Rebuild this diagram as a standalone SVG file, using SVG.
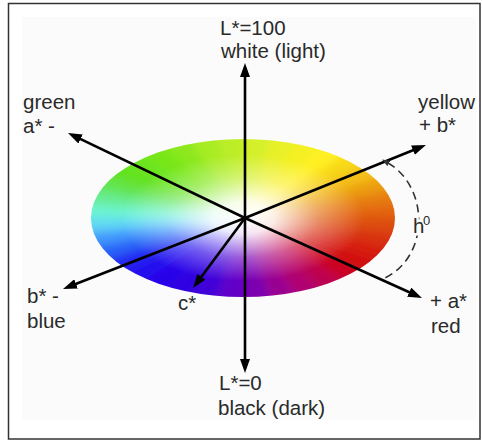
<svg xmlns="http://www.w3.org/2000/svg" width="482" height="443" viewBox="0 0 482 443">
<style>
.t{font-family:"Liberation Sans",Arial,sans-serif;font-size:20.5px;fill:#2a2a2a}
.ax{stroke:#000;stroke-width:2.6;fill:none;marker-end:url(#ah)}
</style>
<defs>
<marker id="ah" viewBox="0 0 14 10" refX="8" refY="5" markerWidth="14" markerHeight="10" markerUnits="userSpaceOnUse" orient="auto"><path d="M0,0 L14,5 L0,10 Z" fill="#000"/></marker>
<marker id="sa" viewBox="0 0 8 6" refX="1" refY="3" markerWidth="8" markerHeight="6" markerUnits="userSpaceOnUse" orient="auto-start-reverse"><path d="M0,0 L8,3 L0,6 Z" fill="#333"/></marker>
<clipPath id="cl"><ellipse cx="243" cy="218" rx="152" ry="79"/></clipPath>
<filter id="bl" x="-10%" y="-10%" width="120%" height="120%"><feGaussianBlur stdDeviation="5"/></filter>
<radialGradient id="wh" cx="0.5" cy="0.5" r="0.5">
<stop offset="0" stop-color="#fff" stop-opacity="1"/>
<stop offset="0.2" stop-color="#fff" stop-opacity="0.9"/>
<stop offset="0.5" stop-color="#fff" stop-opacity="0.35"/>
<stop offset="0.8" stop-color="#fff" stop-opacity="0"/>
</radialGradient>
</defs>
<rect x="8.5" y="3.5" width="471.5" height="435.5" fill="#fff" stroke="#333" stroke-width="1.5"/>
<rect x="22" y="17" width="454" height="403" fill="#fbfbfb"/>
<g id="disc">
<g clip-path="url(#cl)">
<g filter="url(#bl)">
<path d="M244 218L414 218L411.4 202.4Z" fill="#e26410"/>
<path d="M244 218L411.4 202.4L403.7 187.2Z" fill="#e67c10"/>
<path d="M244 218L403.7 187.2L391.2 173Z" fill="#ec9e10"/>
<path d="M244 218L391.2 173L374.2 160.1Z" fill="#f4c014"/>
<path d="M244 218L374.2 160.1L353.3 149.1Z" fill="#f8d818"/>
<path d="M244 218L353.3 149.1L329 140.1Z" fill="#fff020"/>
<path d="M244 218L329 140.1L302.1 133.4Z" fill="#f4f024"/>
<path d="M244 218L302.1 133.4L273.5 129.4Z" fill="#e8f028"/>
<path d="M244 218L273.5 129.4L244 128Z" fill="#d4f02c"/>
<path d="M244 218L244 128L214.5 129.4Z" fill="#bcee28"/>
<path d="M244 218L214.5 129.4L185.9 133.4Z" fill="#a8ec24"/>
<path d="M244 218L185.9 133.4L159 140.1Z" fill="#8ce81c"/>
<path d="M244 218L159 140.1L134.7 149.1Z" fill="#78e618"/>
<path d="M244 218L134.7 149.1L113.8 160.1Z" fill="#6ae41a"/>
<path d="M244 218L113.8 160.1L96.8 173Z" fill="#62e21e"/>
<path d="M244 218L96.8 173L84.3 187.2Z" fill="#62e448"/>
<path d="M244 218L84.3 187.2L76.6 202.4Z" fill="#66ec90"/>
<path d="M244 218L76.6 202.4L74 218Z" fill="#6cf4d0"/>
<path d="M244 218L74 218L76.6 233.6Z" fill="#60d8f4"/>
<path d="M244 218L76.6 233.6L84.3 248.8Z" fill="#4098fc"/>
<path d="M244 218L84.3 248.8L96.8 263Z" fill="#2860f8"/>
<path d="M244 218L96.8 263L113.8 275.9Z" fill="#2020f2"/>
<path d="M244 218L113.8 275.9L134.7 286.9Z" fill="#2208ee"/>
<path d="M244 218L134.7 286.9L159 295.9Z" fill="#2804e8"/>
<path d="M244 218L159 295.9L185.9 302.6Z" fill="#2e00e2"/>
<path d="M244 218L185.9 302.6L214.5 306.6Z" fill="#4000d8"/>
<path d="M244 218L214.5 306.6L244 308Z" fill="#6000c8"/>
<path d="M244 218L244 308L273.5 306.6Z" fill="#7c00b0"/>
<path d="M244 218L273.5 306.6L302.1 302.6Z" fill="#9a0090"/>
<path d="M244 218L302.1 302.6L329 295.9Z" fill="#b00070"/>
<path d="M244 218L329 295.9L353.3 286.9Z" fill="#bc0050"/>
<path d="M244 218L353.3 286.9L374.2 275.9Z" fill="#ca0020"/>
<path d="M244 218L374.2 275.9L391.2 263Z" fill="#d20e10"/>
<path d="M244 218L391.2 263L403.7 248.8Z" fill="#d61e10"/>
<path d="M244 218L403.7 248.8L411.4 233.6Z" fill="#d83010"/>
<path d="M244 218L411.4 233.6L414 218Z" fill="#dd4c10"/>
</g>
<ellipse cx="243" cy="218" rx="152" ry="79" fill="url(#wh)"/>
</g>
</g>
<g id="connectors">
<line class="ax" x1="245" y1="218" x2="245" y2="69"/>
<line class="ax" x1="245" y1="218" x2="245" y2="367"/>
<line class="ax" x1="245" y1="218" x2="73.4" y2="135.6"/>
<line class="ax" x1="245" y1="218" x2="420.4" y2="147.2"/>
<line class="ax" x1="245" y1="218" x2="68.6" y2="286.8"/>
<line class="ax" x1="245" y1="218" x2="416.5" y2="295.5"/>
<line class="ax" x1="245" y1="218" x2="196.6" y2="283.2"/>
<path id="hue-arc" d="M388 163 C428 186 431 255 385 278" fill="none" stroke="#333" stroke-width="1.6" stroke-dasharray="8 5" marker-start="url(#sa)"/>
</g>
<g id="label-L100"><text class="t" x="220" y="35">L*=100</text><text class="t" x="221" y="58">white (light)</text></g>
<g id="label-green"><text class="t" x="23" y="109">green</text><text class="t" x="23" y="133">a* -</text></g>
<g id="label-yellow"><text class="t" x="418" y="109">yellow</text><text class="t" x="419" y="132">+ b*</text></g>
<g id="label-blue"><text class="t" x="27" y="303">b* -</text><text class="t" x="27" y="328">blue</text></g>
<g id="label-red"><text class="t" x="430" y="308">+ a*</text><text class="t" x="431" y="333">red</text></g>
<g id="label-c"><text class="t" x="178" y="310">c*</text></g>
<g id="label-h"><text class="t" x="413" y="233" stroke="#fbfbfb" stroke-width="5" paint-order="stroke">h</text><text class="t" x="423" y="225" style="font-size:13px" stroke="#fbfbfb" stroke-width="3" paint-order="stroke">0</text></g>
<g id="label-L0"><text class="t" x="219" y="390">L*=0</text><text class="t" x="218" y="415">black (dark)</text></g>
</svg>
